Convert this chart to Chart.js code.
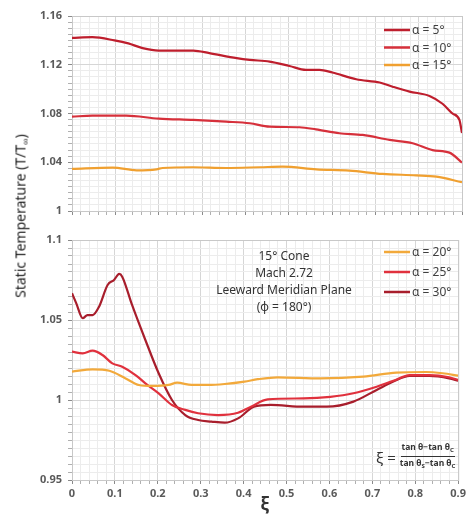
<!DOCTYPE html>
<html>
<head>
<meta charset="utf-8">
<script src="https://cdn.jsdelivr.net/npm/chart.js@4/dist/chart.umd.min.js"></script>
<style>
  html,body{margin:0;padding:0;background:#fff;}
  body{width:469px;height:515px;position:relative;overflow:hidden;font-family:"Noto Sans",sans-serif;}
  #topWrap{position:absolute;left:0;top:0;width:469px;height:225px;}
  #botWrap{position:absolute;left:0;top:225px;width:469px;height:290px;}
  #ytitle{position:absolute;left:21px;top:216px;transform:translate(-50%,-50%) rotate(-90deg);white-space:nowrap;font-size:14px;color:#1e1e1e;}
  #ytitle sub{font-size:9px;vertical-align:-3px;}
  #formula{position:absolute;left:376px;top:441px;display:flex;align-items:center;color:#333;}
  #formula .xi{font-size:15px;margin-right:4px;}
  #formula .frac{display:flex;flex-direction:column;align-items:center;font-size:8.5px;font-weight:bold;line-height:11px;}
  #formula .num{border-bottom:1px solid #333;padding:0 1px;}
  #formula sub{font-size:6px;vertical-align:-2px;}
</style>
</head>
<body>
<div id="topWrap"><canvas id="topChart" width="469" height="225"></canvas></div>
<div id="botWrap"><canvas id="botChart" width="469" height="290"></canvas></div>
<div id="ytitle">Static Temperature (T/T<sub>∞</sub>)</div>
<div id="formula"><span class="xi">ξ =</span><span class="frac"><span class="num">tan θ−tan θ<sub>C</sub></span><span class="den">tan θ<sub>S</sub>−tan θ<sub>C</sub></span></span></div>
<script>
// ---------- DATA ----------
const xi5  = [0, 0.047, 0.098, 0.13, 0.163, 0.2, 0.28, 0.317, 0.38, 0.41, 0.456, 0.502, 0.54, 0.571, 0.601, 0.656, 0.71, 0.74, 0.779, 0.825, 0.855, 0.878, 0.894, 0.9];
const t5   = [1.1420, 1.1426, 1.1400, 1.1375, 1.1336, 1.1316, 1.1316, 1.1295, 1.1254, 1.1240, 1.1226, 1.1190, 1.1158, 1.1158, 1.1136, 1.1081, 1.1054, 1.1020, 1.0980, 1.0944, 1.0880, 1.0800, 1.0747, 1.0640];

const xi10 = [0, 0.047, 0.125, 0.2, 0.28, 0.356, 0.41, 0.456, 0.525, 0.563, 0.617, 0.671, 0.733, 0.786, 0.832, 0.871, 0.9];
const t10  = [1.0774, 1.0782, 1.0782, 1.0758, 1.0747, 1.0733, 1.0720, 1.0692, 1.0687, 1.0670, 1.0638, 1.0624, 1.0583, 1.0556, 1.0500, 1.0479, 1.0397];

const xi15 = [0, 0.094, 0.149, 0.195, 0.209, 0.278, 0.356, 0.433, 0.486, 0.564, 0.64, 0.717, 0.794, 0.841, 0.9];
const t15  = [1.0345, 1.0356, 1.0334, 1.0342, 1.0353, 1.0359, 1.0353, 1.0359, 1.0364, 1.0342, 1.0331, 1.0304, 1.0293, 1.0282, 1.0236];

const xi20 = [0, 0.048, 0.087, 0.125, 0.156, 0.187, 0.225, 0.245, 0.279, 0.317, 0.356, 0.402, 0.433, 0.479, 0.579, 0.679, 0.756, 0.825, 0.864, 0.9];
const t20  = [1.0177, 1.0192, 1.0183, 1.0135, 1.0094, 1.0088, 1.0094, 1.0108, 1.0094, 1.0094, 1.0100, 1.0115, 1.0130, 1.0142, 1.0135, 1.0146, 1.0171, 1.0175, 1.0167, 1.0152];

const xi25 = [0, 0.025, 0.048, 0.071, 0.094, 0.117, 0.148, 0.171, 0.202, 0.233, 0.264, 0.294, 0.34, 0.387, 0.417, 0.456, 0.54, 0.602, 0.656, 0.71, 0.749, 0.787, 0.833, 0.879, 0.9];
const t25  = [1.0302, 1.0292, 1.0308, 1.0281, 1.0229, 1.0208, 1.0156, 1.0104, 1.0042, 0.9969, 0.9938, 0.9917, 0.9906, 0.9920, 0.9958, 1.0004, 1.0010, 1.0020, 1.0042, 1.0083, 1.0120, 1.0156, 1.0156, 1.0142, 1.0125];

const xi30 = [0, 0.01, 0.025, 0.036, 0.048, 0.063, 0.083, 0.098, 0.11, 0.117, 0.14, 0.171, 0.202, 0.233, 0.264, 0.294, 0.325, 0.356, 0.387, 0.424, 0.463, 0.54, 0.594, 0.656, 0.71, 0.749, 0.787, 0.833, 0.879, 0.9];
const t30  = [1.0667, 1.0604, 1.0511, 1.0531, 1.0531, 1.0583, 1.0719, 1.0750, 1.0788, 1.0771, 1.0594, 1.0375, 1.0167, 1.0000, 0.9906, 0.9875, 0.9865, 0.9858, 0.9885, 0.9958, 0.9969, 0.9958, 0.9958, 0.9990, 1.0063, 1.0115, 1.0150, 1.0150, 1.0135, 1.0120];

const topLabels = ['α = 5°', 'α = 10°', 'α = 15°'];
const botLabels = ['α = 20°', 'α = 25°', 'α = 30°'];
const noteLines = ['15° Cone', 'Mach 2.72', 'Leeward Meridian Plane', '(φ = 180°)'];

const xTickValues = [0, 0.1, 0.2, 0.3, 0.4, 0.5, 0.6, 0.7, 0.8, 0.9];
const topYTicks = [1, 1.04, 1.08, 1.12, 1.16];
const botYTicks = [0.95, 1, 1.05, 1.1];

// ---------- HELPERS ----------
const pts = (xs, ys) => xs.map((x, i) => ({x: x, y: ys[i]}));
const near = (v, list) => list.some(t => Math.abs(v - t) < 1e-7);
const FONT = '"Noto Sans", sans-serif';

function ds(label, xs, ys, color) {
  return {label, data: pts(xs, ys), borderColor: color, backgroundColor: color,
    borderWidth: 2.2, pointRadius: 0, cubicInterpolationMode: 'monotone', fill: false};
}

const frame = {
  id: 'frame',
  beforeDatasetsDraw(chart) {
    const a = chart.chartArea, c = chart.ctx;
    c.save(); c.strokeStyle = '#c8c8c8'; c.lineWidth = 1;
    c.strokeRect(a.left + 0.5, a.top + 0.5, a.right - a.left, a.bottom - a.top);
    c.restore();
  }
};

const inLegend = {
  id: 'inLegend',
  afterDatasetsDraw(chart, args, opts) {
    const c = chart.ctx;
    c.save();
    chart.data.datasets.forEach((d, i) => {
      const y = opts.y0 + i * opts.dy;
      c.strokeStyle = d.borderColor; c.lineWidth = 2.5;
      c.beginPath(); c.moveTo(opts.x, y); c.lineTo(opts.x + 26, y); c.stroke();
      c.fillStyle = '#404040'; c.font = '12px ' + FONT; c.textBaseline = 'middle';
      c.fillText(d.label, opts.x + 28, y + 1);
    });
    if (opts.note) {
      c.textAlign = 'center'; c.font = '12px ' + FONT; c.fillStyle = '#333';
      opts.note.forEach((s, i) => c.fillText(s, opts.noteX, opts.noteY + i * 16.8));
    }
    c.restore();
  }
};

function xScale(showLabels, height) {
  return {
    type: 'linear', min: 0, max: 0.9,
    afterBuildTicks(s) { s.ticks = []; for (let i = 0; i <= 45; i++) s.ticks.push({value: +(i * 0.02).toFixed(2)}); },
    ticks: {
      autoSkip: false, maxRotation: 0, padding: 3,
      color: '#5a5a5a', font: {family: FONT, size: 11, weight: 'bold'},
      callback: (v) => showLabels && near(v, xTickValues) ? String(+v.toFixed(1)) : ''
    },
    grid: {
      color: (c) => near(c.tick.value, xTickValues) ? '#d6d6d6' : '#ececec',
      tickColor: (c) => near(c.tick.value, xTickValues) ? '#8a8a8a' : '#b0b0b0',
      tickLength: 4
    },
    border: {color: '#8a8a8a', width: 1},
    title: showLabels ? {display: true, text: 'ξ', color: '#333', font: {family: FONT, size: 17, weight: 'bold'}, padding: {top: 0, bottom: 0}} : {display: false},
    afterFit(s) { s.height = height; }
  };
}

function yScale(min, max, labelTicks) {
  return {
    type: 'linear', min, max,
    afterBuildTicks(s) { s.ticks = []; const n = Math.round((max - min) / 0.005); for (let i = 0; i <= n; i++) s.ticks.push({value: +(min + i * 0.005).toFixed(3)}); },
    ticks: {
      autoSkip: false, padding: 6,
      color: '#5a5a5a', font: {family: FONT, size: 11, weight: 'bold'},
      callback: (v) => near(v, labelTicks) ? String(+v.toFixed(2)) : ''
    },
    grid: {
      color: (c) => near(c.tick.value, labelTicks) ? '#d6d6d6' : '#ececec',
      tickColor: (c) => near(c.tick.value, labelTicks) ? '#8a8a8a' : '#b0b0b0',
      tickLength: 4
    },
    border: {color: '#8a8a8a', width: 1},
    afterFit(s) { s.width = 72; }
  };
}

const C5 = '#BE1E2D', C10 = '#D6303B', C15 = '#F0A030';
const C20 = '#F2A93B', C25 = '#E0313D', C30 = '#A81E2C';

new Chart(document.getElementById('topChart'), {
  type: 'line',
  data: {datasets: [ds(topLabels[0], xi5, t5, C5), ds(topLabels[1], xi10, t10, C10), ds(topLabels[2], xi15, t15, C15)]},
  options: {
    responsive: false, animation: false,
    layout: {padding: {top: 16, right: 7, left: 0, bottom: 0}},
    scales: {x: xScale(false, 14), y: yScale(1, 1.16, topYTicks)},
    plugins: {legend: {display: false}, tooltip: {enabled: false},
      inLegend: {x: 384, y0: 30, dy: 17.5}}
  },
  plugins: [frame, inLegend]
});

new Chart(document.getElementById('botChart'), {
  type: 'line',
  data: {datasets: [ds(botLabels[0], xi20, t20, C20), ds(botLabels[1], xi25, t25, C25), ds(botLabels[2], xi30, t30, C30)]},
  options: {
    responsive: false, animation: false,
    layout: {padding: {top: 15, right: 7, left: 0, bottom: 0}},
    scales: {x: xScale(true, 35), y: yScale(0.95, 1.1, botYTicks)},
    plugins: {legend: {display: false}, tooltip: {enabled: false},
      inLegend: {x: 384, y0: 27, dy: 20, note: noteLines, noteX: 284, noteY: 32}}
  },
  plugins: [frame, inLegend]
});
</script>
</body>
</html>
